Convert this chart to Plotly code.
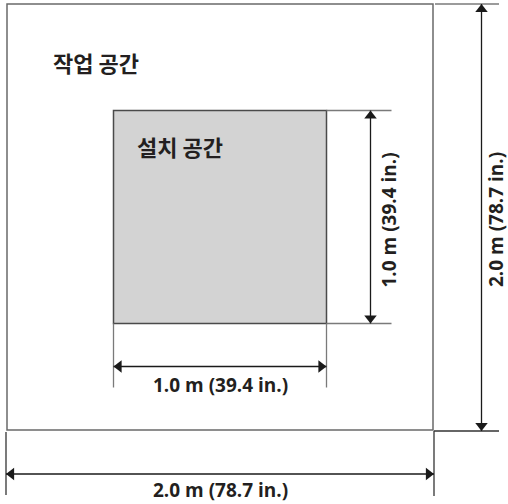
import plotly.graph_objects as go

# ---- data ----
area_names = ["작업 공간", "설치 공간"]          # work area, installation area
area_sizes_m = [2.0, 1.0]                        # side length in metres
size_labels = ["2.0 m (78.7 in.)", "1.0 m (39.4 in.)"]

# ---- layout helpers ----
W, H = 508, 504
PX = 213.0                     # pixels per metre
X0_PX, YTOP_PX = 7, 4          # pixel position of outer box origin


def d(px):
    return px / PX


outer = area_sizes_m[0]
inner = area_sizes_m[1]
lo = (outer - inner) / 2
hi = lo + inner

xr = [-d(X0_PX), d(W - X0_PX)]
yr = [outer - d(H - YTOP_PX), outer + d(YTOP_PX)]

EXT_C = "#7a7a7a"
DIM_C = "#1a1a1a"
TXT_C = "#231f20"

fig = go.Figure()
shapes = []


def seg(x0, y0, x1, y1, color, width=1.3):
    shapes.append(dict(type="line", xref="x", yref="y", x0=x0, y0=y0, x1=x1, y1=y1,
                       line=dict(color=color, width=width), layer="above"))


# boxes
shapes.append(dict(type="rect", xref="x", yref="y", x0=0, y0=0, x1=outer, y1=outer,
                   line=dict(color="#6a6a6a", width=1.5), fillcolor="rgba(0,0,0,0)", layer="below"))
shapes.append(dict(type="rect", xref="x", yref="y", x0=lo, y0=lo, x1=hi, y1=hi,
                   line=dict(color="#4a4a4a", width=1.5), fillcolor="#d3d3d3", layer="below"))

# extension lines
seg(hi, hi, hi + d(65), hi, EXT_C)
seg(hi, lo, hi + d(65), lo, EXT_C)
seg(lo, lo, lo, lo - d(64), EXT_C)
seg(hi, lo, hi, lo - d(64), EXT_C)
seg(outer + d(2), outer, outer + d(66), outer, EXT_C)
seg(outer + d(1), -d(1), outer + d(66), -d(1), "#333333")
seg(-d(1), -d(2), -d(1), -d(65), "#333333")
seg(outer + d(1), -d(1), outer + d(1), -d(66), "#333333")

# dimension lines
ivx = hi + d(44)
ihy = lo - d(43)
ovx = outer + d(48.5)
ohy = -d(44)
ox_l, ox_r = -d(1), outer + d(1)
oy_b, oy_t = -d(1), outer
seg(ivx, lo, ivx, hi, DIM_C)
seg(lo, ihy, hi, ihy, DIM_C)
seg(ovx, oy_b, ovx, oy_t, DIM_C)
seg(ox_l, ohy, ox_r, ohy, DIM_C)

# arrowheads (triangle markers, tip offset r from centre)
R = 5.4
heads_x, heads_y, heads_sym = [], [], []
for (x, y, s) in [
    (ivx, hi - d(R), "triangle-up"), (ivx, lo + d(R), "triangle-down"),
    (lo + d(R), ihy, "triangle-left"), (hi - d(R), ihy, "triangle-right"),
    (ovx, oy_t - d(R), "triangle-up"), (ovx, oy_b + d(R), "triangle-down"),
    (ox_l + d(R), ohy, "triangle-left"), (ox_r - d(R), ohy, "triangle-right"),
]:
    heads_x.append(x)
    heads_y.append(y)
    heads_sym.append(s)

fig.add_trace(go.Scatter(x=heads_x, y=heads_y, mode="markers",
                         marker=dict(symbol=heads_sym, size=2 * R, color=DIM_C, line=dict(width=0)),
                         hoverinfo="skip", showlegend=False))

ann = []
dim_font = dict(family="Open Sans, Noto Sans, sans-serif", size=19, color=TXT_C, weight="bold")
kr_font = dict(family="Noto Sans CJK KR", size=22, color=TXT_C, weight="bold")

ann.append(dict(x=d(44), y=outer - d(58), text=f"<b>{area_names[0]}</b>", xanchor="left", yanchor="middle",
                showarrow=False, font=kr_font))
ann.append(dict(x=lo + d(21), y=outer - d(142), text=f"<b>{area_names[1]}</b>", xanchor="left", yanchor="middle",
                showarrow=False, font=kr_font))
ann.append(dict(x=(lo + hi) / 2, y=lo - d(61), text=f"<b>{size_labels[1]}</b>", xanchor="center",
                yanchor="middle", showarrow=False, font=dim_font))
ann.append(dict(x=outer / 2, y=-d(60), text=f"<b>{size_labels[0]}</b>", xanchor="center",
                yanchor="middle", showarrow=False, font=dim_font))
ann.append(dict(x=hi + d(62), y=(lo + hi) / 2 - d(3), text=f"<b>{size_labels[1]}</b>", textangle=-90,
                xanchor="center", yanchor="middle", showarrow=False, font=dim_font))
ann.append(dict(x=outer + d(63), y=outer / 2 - d(3), text=f"<b>{size_labels[0]}</b>", textangle=-90,
                xanchor="center", yanchor="middle", showarrow=False, font=dim_font))
for a in ann:
    a["xref"] = "x"
    a["yref"] = "y"

fig.update_layout(
    width=W, height=H,
    margin=dict(l=0, r=0, t=0, b=0),
    paper_bgcolor="white", plot_bgcolor="white",
    shapes=shapes, annotations=ann,
    xaxis=dict(range=xr, visible=False, fixedrange=True),
    yaxis=dict(range=yr, visible=False, fixedrange=True),
    showlegend=False,
)

fig.write_html("out.html", config={"displayModeBar": False},
               post_script="document.body.style.margin='0';document.body.style.overflow='hidden';")
